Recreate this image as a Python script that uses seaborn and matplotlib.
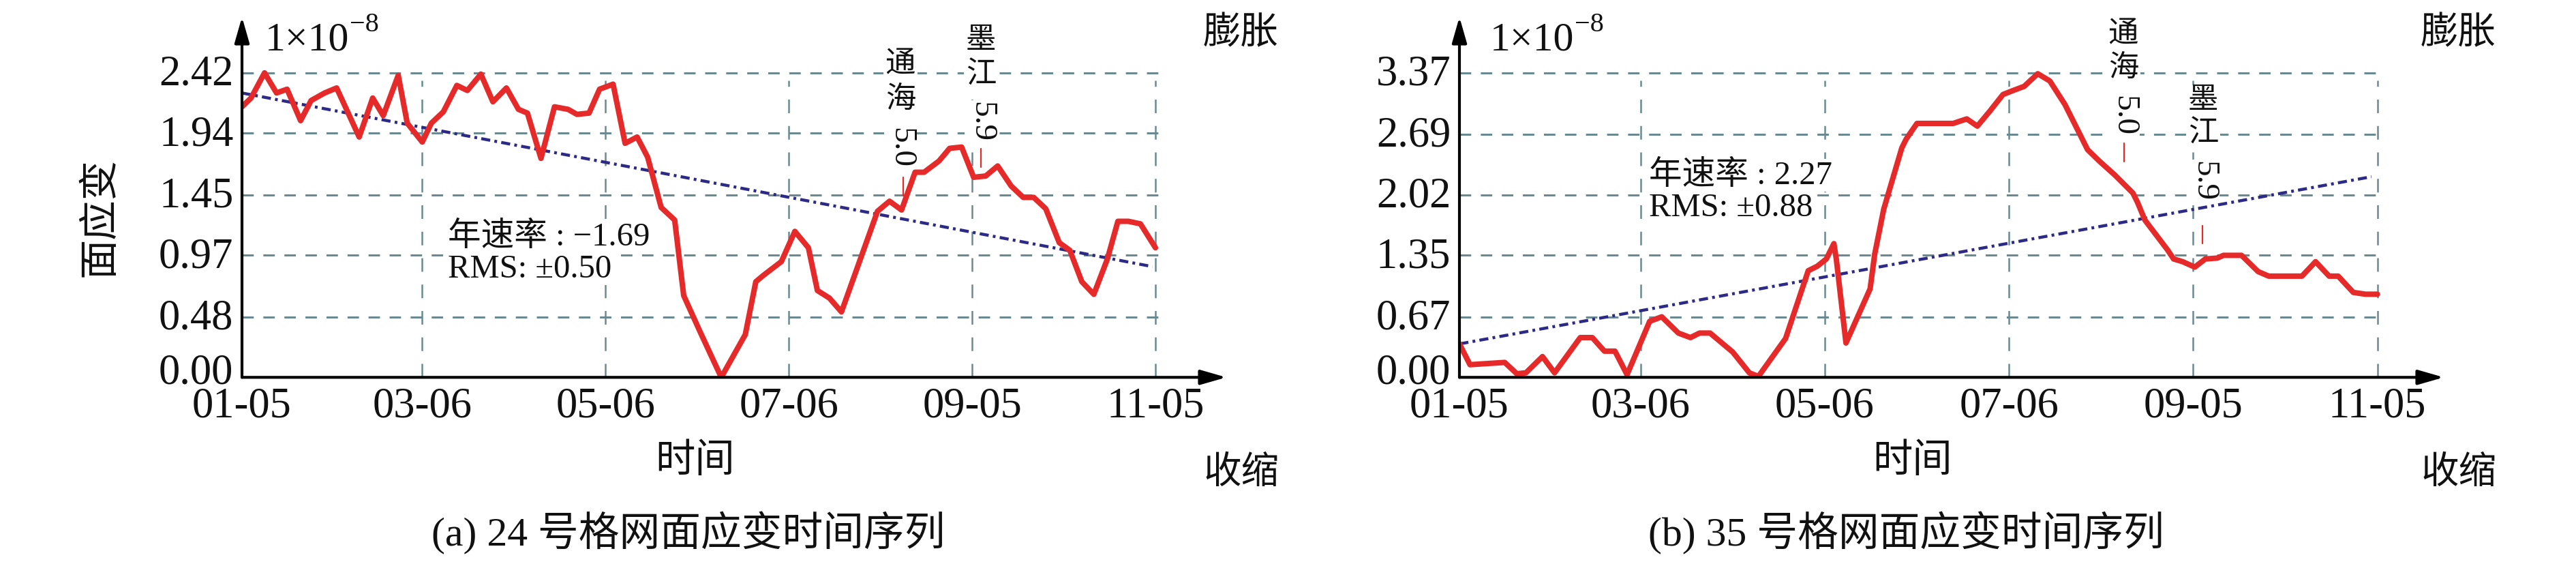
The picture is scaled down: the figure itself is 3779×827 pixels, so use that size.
import matplotlib
matplotlib.use("Agg")
import matplotlib.pyplot as plt
import matplotlib.transforms as mtrans
import seaborn as sns
import pandas as pd

# ---------------- data ----------------
tick_days = [5, 65, 126, 187, 248, 309]
tick_labels = ["01-05", "03-06", "05-06", "07-06", "09-05", "11-05"]
yticks_a = [0.00, 0.48, 0.97, 1.45, 1.94, 2.42]
yticks_b = [0.00, 0.67, 1.35, 2.02, 2.69, 3.37]

days_a = [5, 8, 12.5, 16.5, 20, 24.5, 28, 32.5, 36.5, 44, 48.5, 52, 57, 60, 65, 68, 72,
          76.5, 80, 84.5, 88.5, 93, 97, 100, 104.5, 109, 113.5, 116.5, 120.5, 124, 128.5,
          132.5, 136.5, 140, 144.5, 149, 152, 157.5, 164.5, 172.5, 176, 178.5, 184.5, 189,
          193.5, 196.5, 200.5, 204.5, 216.5, 220.5, 224.5, 229, 232, 237, 240.5, 244.5,
          248.5, 252.5, 256.5, 261, 265, 268.5, 272.5, 277, 280.5, 284.5, 288.5, 293,
          296.5, 300, 304, 309]
strain_a = [2.15, 2.22, 2.42, 2.26, 2.29, 2.04, 2.20, 2.26, 2.30, 1.91, 2.22, 2.08, 2.40,
            2.02, 1.87, 2.02, 2.11, 2.32, 2.28, 2.41, 2.19, 2.30, 2.13, 2.10, 1.74, 2.15,
            2.13, 2.09, 2.10, 2.29, 2.33, 1.86, 1.91, 1.75, 1.35, 1.25, 0.65, 0.36, 0.00,
            0.34, 0.76, 0.81, 0.92, 1.16, 1.03, 0.69, 0.63, 0.52, 1.32, 1.40, 1.33, 1.63,
            1.63, 1.72, 1.82, 1.83, 1.59, 1.60, 1.68, 1.52, 1.43, 1.43, 1.34, 1.07, 1.01,
            0.76, 0.66, 0.94, 1.24, 1.24, 1.22, 1.03]

days_b = [5, 8.5, 13, 20, 24, 27, 32.5, 36.5, 45, 49, 53, 56.5, 60.5, 68, 72, 77.5, 81.5,
          84.5, 88, 95.5, 101, 104, 113, 120.5, 123.5, 126.5, 129, 129.8, 133, 141, 142.5,
          145.5, 151.5, 153, 156.5, 161, 168.5, 173, 176.5, 180.5, 185, 188, 192, 196.5,
          200.5, 205.5, 213, 217, 222, 228, 229.5, 232, 239.5, 241.5, 244.5, 248.5, 252,
          256, 258, 264, 269.5, 273, 284, 288.5, 293, 296, 301, 305, 309]
strain_b = [0.37, 0.14, 0.15, 0.165, 0.04, 0.05, 0.23, 0.05, 0.44, 0.44, 0.29, 0.29, 0.03,
            0.62, 0.67, 0.49, 0.44, 0.49, 0.49, 0.28, 0.05, 0.01, 0.43, 1.18, 1.23, 1.31,
            1.48, 1.31, 0.38, 0.98, 1.36, 1.86, 2.54, 2.64, 2.81, 2.81, 2.81, 2.86, 2.78,
            2.94, 3.13, 3.17, 3.22, 3.36, 3.28, 3.02, 2.52, 2.39, 2.24, 2.04, 1.94, 1.74,
            1.41, 1.31, 1.28, 1.22, 1.31, 1.32, 1.35, 1.35, 1.17, 1.12, 1.12, 1.28, 1.12,
            1.12, 0.94, 0.92, 0.92]

trend_days_a = [5, 308]
trend_a = [2.26, 0.88]
trend_days_b = [5, 307]
trend_b = [0.37, 2.22]

quake_days = [225, 251]
quake_names = ["通海", "墨江"]
quake_mags = ["5.0", "5.9"]

rate_a, rms_a = "−1.69", "±0.50"
rate_b, rms_b = "2.27", "±0.88"
captions = ["(a) 24 号格网面应变时间序列", "(b) 35 号格网面应变时间序列"]

# ---------------- style ----------------
sns.set_theme(style="white")
FAM = ["Liberation Serif", "Noto Sans CJK SC", "DejaVu Sans"]
plt.rcParams["font.family"] = FAM
plt.rcParams["axes.unicode_minus"] = True

RED = "#e62a2a"
NAVY = "#2c2a86"
GRID = "#6b8990"
INK = "#111111"

W, H = 3780, 827
fig = plt.figure(figsize=(W / 100, H / 100), dpi=100)
fig.patch.set_facecolor("white")


def ftext(x, y, s, **kw):
    kw.setdefault("color", INK)
    kw.setdefault("family", FAM)
    return fig.text(x / W, 1 - y / H, s, **kw)


def make_panel(left, x0_px, ppd, ppu, days, vals, tdays, tvals, yticks,
               rate, rms, rate_xy, quake_layout, show_ylabel, caption):
    bottom, top, right = 553.3, 25, left + 1444
    ax = fig.add_axes([left / W, 1 - bottom / H, (right - left) / W, (bottom - top) / H])
    ax.set_xlim(5, 5 + (right - left) / ppd)
    ax.set_ylim(0, (bottom - top) / ppu)
    ax.set_facecolor("white")
    for s in ax.spines.values():
        s.set_visible(False)

    def yv(py):
        return (bottom - py) / ppu

    # grid
    ax.hlines(yticks[1:], tick_days[0], tick_days[-1] + 2, colors=GRID, lw=2.2,
              linestyles=[(0, (5.5, 4.6))], zorder=1)
    ax.vlines(tick_days[1:], 0, yticks[-1] * 0.975, colors=GRID, lw=1.8,
              linestyles=[(0, (8, 7.5))], zorder=1)

    # data
    df = pd.DataFrame({"day": days, "strain": vals})
    sns.lineplot(data=df, x="day", y="strain", ax=ax, color=RED, lw=5.8,
                 estimator=None, sort=False, zorder=4)
    tf = pd.DataFrame({"day": tdays, "trend": tvals})
    sns.lineplot(data=tf, x="day", y="trend", ax=ax, color=NAVY, lw=3.2,
                 linestyle=(0, (3.0, 1.4, 0.9, 1.4)), estimator=None, zorder=3)

    ax.set_xlabel("")
    ax.set_ylabel("")
    ax.set_xticks(tick_days)
    ax.set_xticklabels(tick_labels)
    ax.set_yticks(yticks)
    ax.set_yticklabels([f"{v:.2f}" for v in yticks])
    ax.tick_params(axis="both", length=0, labelsize=45, colors=INK)
    ax.tick_params(axis="x", pad=10)
    ax.tick_params(axis="y", pad=9)
    for i, lab in enumerate(ax.get_yticklabels()):
        dy = 13 if i == 0 else 4
        lab.set_transform(lab.get_transform()
                          + mtrans.ScaledTranslation(0, dy / 100, fig.dpi_scale_trans))

    # axis arrows
    ap = dict(arrowstyle="-|>,head_length=1.15,head_width=0.33", lw=3.0, color="black",
              shrinkA=0, shrinkB=0, mutation_scale=20)
    ax.annotate("", xy=(1, 0), xytext=(0, 0), xycoords="axes fraction",
                arrowprops=ap, annotation_clip=False, zorder=6)
    ax.annotate("", xy=(0, 1), xytext=(0, 0), xycoords="axes fraction",
                arrowprops=ap, annotation_clip=False, zorder=6)

    # rate / RMS annotation
    rx, rb1, rb2 = rate_xy
    bb = dict(facecolor="white", edgecolor="none", pad=1)
    ftext(rx, rb1, "年速率 : " + rate, fontsize=35, va="baseline", ha="left", bbox=bb, zorder=5)
    ftext(rx, rb2, "RMS: " + rms, fontsize=35, va="baseline", ha="left", bbox=bb, zorder=5)

    # earthquakes
    for qd, name, mag, lay in zip(quake_days, quake_names, quake_mags, quake_layout):
        cx, c1, c2, cm, t0, t1 = lay
        bbq = dict(facecolor="white", edgecolor="none", pad=2)
        ftext(cx, c1, name[0], fontsize=32, ha="center", va="center", bbox=bbq, zorder=5)
        ftext(cx, c2, name[1], fontsize=32, ha="center", va="center", bbox=bbq, zorder=5)
        ftext(cx, cm, mag, fontsize=34, ha="center", va="center", rotation=-90,
              bbox=bbq, zorder=5)
        ax.plot([qd, qd], [yv(t1), yv(t0)], color=RED, lw=1.6, zorder=5)

    # unit, labels
    ftext(x0_px + 34, 73, "1×10", fontsize=43, ha="left", va="baseline")
    ftext(x0_px + 158, 46, "−8", fontsize=29, ha="left", va="baseline")
    ftext(left + 1465, 50, "膨胀", fontsize=40, ha="center", va="center")
    ftext(left + 1466, 695, "收缩", fontsize=40, ha="center", va="center")
    ftext(left + 665, 677, "时间", fontsize=42, ha="center", va="center")
    ftext(left + 655, 782, caption, fontsize=43, ha="center", va="center")
    if show_ylabel:
        ftext(147, 318, "面应变", fontsize=42, ha="center", va="center", rotation=90)
    return ax


make_panel(355, 355, 4.408, 184.5, days_a, strain_a, trend_days_a, trend_a, yticks_a,
           rate_a, rms_a, (657, 360, 407),
           [(1321, 95, 147, 216, 260, 287), (1439, 60, 111, 179, 218, 245)],
           True, captions[0])
make_panel(2141, 2152, 4.43, 132.5, days_b, strain_b, trend_days_b, trend_b, yticks_b,
           rate_b, rms_b, (2419, 270, 317),
           [(3115, 51, 101, 170, 210, 237), (3232, 148, 197, 266, 331, 357)],
           False, captions[1])

fig.savefig("out.png", dpi=100, facecolor="white")
